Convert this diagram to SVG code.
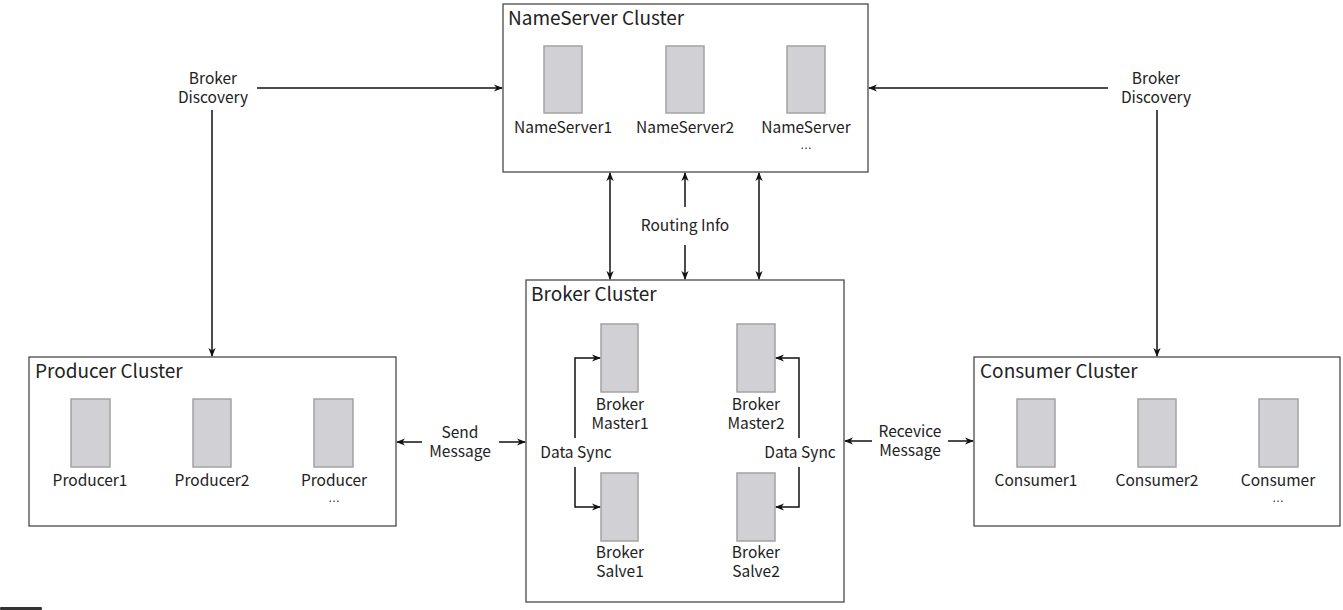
<svg xmlns="http://www.w3.org/2000/svg" width="1343" height="610" viewBox="0 0 1343 610">
<style>
.cluster{fill:#fff;stroke:#3a3a3a;stroke-width:1.2}
.srv{fill:#d1d0d4;stroke:#a3a3a3;stroke-width:1.5}
.title{font-family:"Noto Sans CJK SC","Noto Sans",sans-serif;font-size:19px;fill:#222}
.lbl{font-family:"Noto Sans CJK SC","Noto Sans",sans-serif;font-size:15.5px;fill:#222;text-anchor:middle}
.dots{font-family:"Liberation Sans",sans-serif;font-size:12px}
.conn{fill:none;stroke:#111;stroke-width:1.5}
</style>
<defs>
<marker id="ah" viewBox="0 0 10 10" refX="9" refY="5" markerWidth="9" markerHeight="9" markerUnits="userSpaceOnUse" orient="auto-start-reverse">
<path d="M0,1 L10,5 L0,9 L3,5 z" fill="#111"/>
</marker>
</defs>
<rect width="1343" height="610" fill="#fff"/>

<g id="nameserver-cluster">
<rect class="cluster" x="503" y="4" width="365" height="168"/>
<text class="title" x="508" y="25">NameServer Cluster</text>
<rect class="srv" x="544" y="46" width="38" height="67"/>
<rect class="srv" x="666" y="46" width="38" height="67"/>
<rect class="srv" x="787" y="46" width="38" height="67"/>
<text class="lbl" x="563" y="133">NameServer1</text>
<text class="lbl" x="685" y="133">NameServer2</text>
<text class="lbl" x="806" y="133">NameServer<tspan class="dots" x="806" dy="16">…</tspan></text>
</g>

<g id="broker-cluster">
<rect class="cluster" x="526" y="280" width="318" height="322"/>
<text class="title" x="531" y="301">Broker Cluster</text>
<rect class="srv" x="601" y="324" width="37" height="68"/>
<rect class="srv" x="737" y="324" width="38" height="68"/>
<rect class="srv" x="601" y="473" width="37" height="68"/>
<rect class="srv" x="737" y="473" width="38" height="68"/>
<text class="lbl" x="620" y="410">Broker<tspan x="620" dy="19">Master1</tspan></text>
<text class="lbl" x="756" y="410">Broker<tspan x="756" dy="19">Master2</tspan></text>
<text class="lbl" x="620" y="558">Broker<tspan x="620" dy="19">Salve1</tspan></text>
<text class="lbl" x="756" y="558">Broker<tspan x="756" dy="19">Salve2</tspan></text>
<text class="lbl" x="576" y="458">Data Sync</text>
<text class="lbl" x="800" y="458">Data Sync</text>
</g>

<g id="producer-cluster">
<rect class="cluster" x="29" y="357" width="367" height="169"/>
<text class="title" x="35" y="378">Producer Cluster</text>
<rect class="srv" x="71" y="399" width="39" height="68"/>
<rect class="srv" x="193" y="399" width="38" height="68"/>
<rect class="srv" x="314" y="399" width="39" height="68"/>
<text class="lbl" x="90" y="486">Producer1</text>
<text class="lbl" x="212" y="486">Producer2</text>
<text class="lbl" x="334" y="486">Producer<tspan class="dots" x="334" dy="16">…</tspan></text>
</g>

<g id="consumer-cluster">
<rect class="cluster" x="974" y="357" width="366" height="169"/>
<text class="title" x="980" y="378">Consumer Cluster</text>
<rect class="srv" x="1017" y="399" width="38" height="68"/>
<rect class="srv" x="1138" y="399" width="38" height="68"/>
<rect class="srv" x="1259" y="399" width="39" height="68"/>
<text class="lbl" x="1036" y="486">Consumer1</text>
<text class="lbl" x="1157" y="486">Consumer2</text>
<text class="lbl" x="1278" y="486">Consumer<tspan class="dots" x="1278" dy="16">…</tspan></text>
</g>

<g id="connector-labels">
<text class="lbl" x="213" y="84">Broker<tspan x="213" dy="19">Discovery</tspan></text>
<text class="lbl" x="1156" y="84">Broker<tspan x="1156" dy="19">Discovery</tspan></text>
<text class="lbl" x="685" y="231">Routing Info</text>
<text class="lbl" x="460" y="438">Send<tspan x="460" dy="19">Message</tspan></text>
<text class="lbl" x="910" y="437">Recevice<tspan x="910" dy="19">Message</tspan></text>
</g>

<g id="connectors">
<line class="conn" x1="257" y1="88" x2="502" y2="88" marker-end="url(#ah)"/>
<line class="conn" x1="212" y1="110" x2="212" y2="356" marker-end="url(#ah)"/>
<line class="conn" x1="1108" y1="88" x2="869" y2="88" marker-end="url(#ah)"/>
<line class="conn" x1="1157" y1="110" x2="1157" y2="356" marker-end="url(#ah)"/>
<line class="conn" x1="610" y1="173" x2="610" y2="279" marker-start="url(#ah)" marker-end="url(#ah)"/>
<line class="conn" x1="685" y1="207" x2="685" y2="173" marker-end="url(#ah)"/>
<line class="conn" x1="685" y1="245" x2="685" y2="279" marker-end="url(#ah)"/>
<line class="conn" x1="759" y1="173" x2="759" y2="279" marker-start="url(#ah)" marker-end="url(#ah)"/>
<line class="conn" x1="422" y1="442" x2="397" y2="442" marker-end="url(#ah)"/>
<line class="conn" x1="499" y1="442" x2="525" y2="442" marker-end="url(#ah)"/>
<line class="conn" x1="872" y1="441" x2="845" y2="441" marker-end="url(#ah)"/>
<line class="conn" x1="948" y1="441" x2="973" y2="441" marker-end="url(#ah)"/>
<polyline class="conn" points="575,438 575,358 600,358" marker-end="url(#ah)"/>
<polyline class="conn" points="575,467 575,507 600,507" marker-end="url(#ah)"/>
<polyline class="conn" points="799,438 799,358 776,358" marker-end="url(#ah)"/>
<polyline class="conn" points="799,467 799,507 776,507" marker-end="url(#ah)"/>
</g>

<rect x="0" y="607" width="42" height="3" rx="1" fill="#333"/>
</svg>
